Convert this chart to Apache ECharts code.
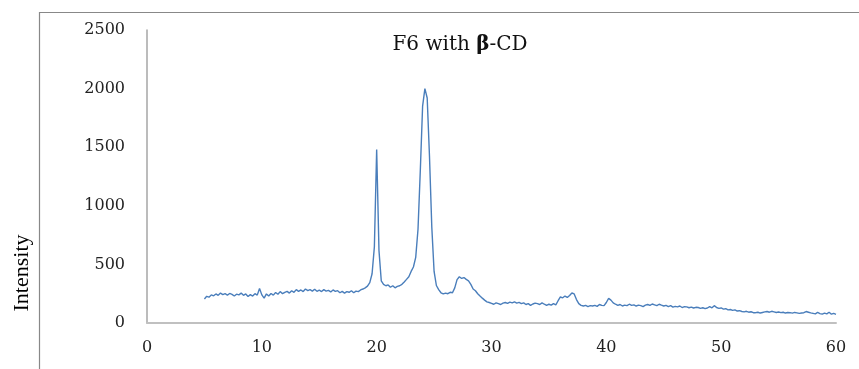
<!DOCTYPE html>
<html>
<head>
<meta charset="utf-8">
<script src="https://cdn.jsdelivr.net/npm/echarts@6/dist/echarts.min.js"></script>
<style>
  html, body { margin:0; padding:0; background:#fff; }
  #chart { width:859px; height:369px; }
</style>
</head>
<body>
<div id="chart"></div>
<script>
// 2-theta scan, one reading every 0.2 degree starting at 5
var startAngle = 5;
var stepAngle = 0.2;
var intensity = [
  205,228,220,240,232,   // 5
  248,236,255,242,250,   // 6
  238,252,244,230,246,   // 7
  240,255,236,248,226,   // 8
  242,230,250,238,295,   // 9
  240,212,248,230,252,   // 10
  238,260,245,268,250,   // 11
  262,270,255,275,262,   // 12
  285,270,282,268,290,   // 13
  276,285,272,288,270,   // 14
  280,268,285,272,278,   // 15
  265,282,270,276,258,   // 16
  270,255,268,262,275,   // 17
  258,272,268,282,290,   // 18
  300,315,345,420,650,   // 19
  1480,620,360,330,318,  // 20
  325,305,318,300,312,   // 21
  318,330,350,372,395,   // 22
  440,478,560,800,1300,  // 23
  1850,2000,1920,1420,820, // 24
  440,320,285,258,248,   // 25
  255,250,262,258,300,   // 26
  370,395,380,388,372,   // 27
  360,330,290,275,250,   // 28
  230,212,195,180,175,   // 29
  168,160,172,165,158,   // 30
  170,175,168,178,172,   // 31
  180,170,176,165,172,   // 32
  158,165,150,162,170,   // 33
  165,158,172,160,150,   // 34
  160,152,165,155,190,   // 35
  222,215,230,218,235,   // 36
  256,248,200,165,150,   // 37
  145,150,140,148,145,   // 38
  150,142,158,150,148,   // 39
  175,210,195,172,160,   // 40
  150,158,145,152,148,   // 41
  160,150,155,145,152,   // 42
  148,140,152,158,150,   // 43
  162,155,148,160,152,   // 44
  145,150,140,148,135,   // 45
  142,138,145,132,140,   // 46
  138,130,136,128,134,   // 47
  132,125,130,122,128,   // 48
  140,130,148,132,125,   // 49
  128,118,122,112,115,   // 50
  108,112,102,105,98,    // 51
  95,100,92,96,88,       // 52
  88,92,85,90,95,        // 53
  98,92,100,95,90,       // 54
  94,88,92,85,90,        // 55
  88,84,90,86,82,        // 56
  85,88,98,92,86,        // 57
  82,78,90,80,76,        // 58
  85,78,92,75,82,        // 59
  74                     // 60
];
var xTicks = [0, 10, 20, 30, 40, 50, 60];
var yTicks = [0, 500, 1000, 1500, 2000, 2500];

var seriesData = intensity.map(function (v, i) {
  return [+(startAngle + i * stepAngle).toFixed(1), v];
});

var chart = echarts.init(document.getElementById('chart'));
var labelFont = { fontFamily: 'DejaVu Serif', fontSize: 16, color: '#222' };

option = {
  backgroundColor: '#fff',
  animation: false,
  grid: { left: 147, right: 23, top: 30, bottom: 46 },
  title: {
    text: 'F6 with {b|β}-CD',
    left: 455, top: 30,
    textAlign: 'center',
    textStyle: {
      fontFamily: 'DejaVu Serif', fontSize: 20, fontWeight: 'normal', color: '#111',
      rich: { b: { fontFamily: 'DejaVu Serif', fontSize: 20, fontWeight: 'bold', color: '#111' } }
    }
  },
  graphic: [
    { type: 'line', shape: { x1: 39.5, y1: 12, x2: 39.5, y2: 369 }, style: { stroke: '#888', lineWidth: 1.2 } },
    { type: 'line', shape: { x1: 39, y1: 12.5, x2: 859, y2: 12.5 }, style: { stroke: '#888', lineWidth: 1.2 } },
    {
      type: 'text', x: 22, y: 273, rotation: Math.PI / 2,
      style: { text: 'Intensity', fontFamily: 'Liberation Serif', fontSize: 22, fill: '#000',
               textAlign: 'center', textVerticalAlign: 'middle' }
    }
  ],
  xAxis: {
    type: 'value', min: xTicks[0], max: xTicks[xTicks.length - 1], interval: 10,
    axisLine: { lineStyle: { color: '#c0c0c0', width: 2 } },
    axisTick: { show: false },
    splitLine: { show: false },
    axisLabel: Object.assign({ margin: 17 }, labelFont)
  },
  yAxis: {
    type: 'value', min: yTicks[0], max: yTicks[yTicks.length - 1], interval: 500,
    axisLine: { show: true, lineStyle: { color: '#a6a6a6', width: 1.5 } },
    axisTick: { show: false },
    splitLine: { show: false },
    axisLabel: Object.assign({ margin: 22, formatter: function (v) { return String(v); } }, labelFont)
  },
  series: [{
    type: 'line',
    data: seriesData,
    showSymbol: false,
    lineStyle: { color: '#4a7ebb', width: 1.4 }
  }]
};
chart.setOption(option);
</script>
</body>
</html>
